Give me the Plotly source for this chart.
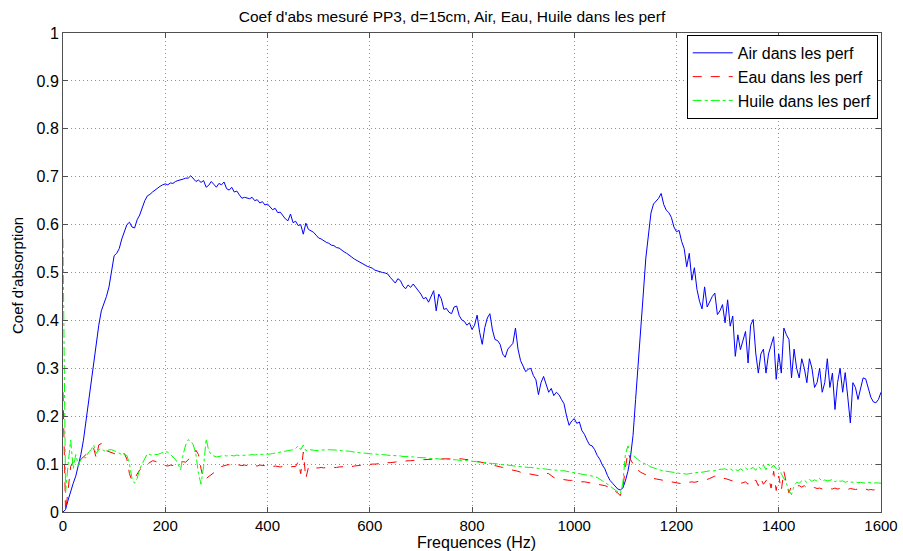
import plotly.graph_objects as go

# Frequency grid (Hz), 5 Hz steps from 0 to 1600
freq = list(range(0, 1605, 5))

air = [
    0.0, 0.005, 0.025, 0.045, 0.06, 0.075, 0.095, 0.12, 0.15, 0.19, 0.235, 0.28, 0.32, 0.35, 0.39, 0.42, 0.435, 0.45, 0.47, 0.50,
    0.535, 0.54, 0.55, 0.57, 0.585, 0.60, 0.605, 0.595, 0.593, 0.61, 0.62, 0.635, 0.65, 0.66, 0.663, 0.668, 0.672, 0.677, 0.68, 0.683,
    0.685, 0.683, 0.687, 0.686, 0.69, 0.692, 0.693, 0.695, 0.697, 0.697, 0.702, 0.695, 0.69, 0.693, 0.688, 0.692, 0.678, 0.682, 0.69, 0.684,
    0.678, 0.686, 0.683, 0.689, 0.675, 0.672, 0.678, 0.668, 0.67, 0.662, 0.655, 0.657, 0.656, 0.654, 0.657, 0.65, 0.652, 0.645, 0.648, 0.641,
    0.643, 0.636, 0.631, 0.634, 0.625, 0.626, 0.618, 0.612, 0.608, 0.622, 0.604, 0.607, 0.598, 0.60, 0.58, 0.603, 0.59, 0.587, 0.584, 0.578,
    0.572, 0.57, 0.566, 0.563, 0.561, 0.557, 0.556, 0.552, 0.551, 0.546, 0.543, 0.540, 0.535, 0.532, 0.528, 0.525, 0.521, 0.518, 0.516, 0.513,
    0.511, 0.509, 0.505, 0.503, 0.502, 0.50, 0.499, 0.497, 0.49, 0.485, 0.478, 0.487, 0.483, 0.472, 0.466, 0.474, 0.469, 0.476, 0.469, 0.462,
    0.455, 0.445, 0.448, 0.438, 0.45, 0.462, 0.42, 0.455, 0.445, 0.423, 0.425, 0.417, 0.414, 0.428, 0.43, 0.41, 0.401, 0.398, 0.39, 0.395,
    0.381, 0.39, 0.411, 0.375, 0.35, 0.385, 0.405, 0.414, 0.38, 0.36, 0.358, 0.35, 0.33, 0.323, 0.34, 0.345, 0.352, 0.384, 0.34, 0.316,
    0.305, 0.293, 0.298, 0.30, 0.285, 0.276, 0.245, 0.27, 0.283, 0.265, 0.25, 0.258, 0.243, 0.25, 0.245, 0.235, 0.226, 0.20, 0.181, 0.19,
    0.195, 0.185, 0.188, 0.17, 0.162, 0.15, 0.14, 0.138, 0.13, 0.118, 0.11, 0.098, 0.09, 0.076, 0.066, 0.06, 0.054, 0.048, 0.046, 0.05,
    0.065, 0.085, 0.115, 0.16, 0.235, 0.315, 0.39, 0.455, 0.53, 0.585, 0.624, 0.643, 0.65, 0.655, 0.665, 0.642, 0.63, 0.625, 0.615, 0.595,
    0.585, 0.588, 0.565, 0.55, 0.512, 0.54, 0.484, 0.51, 0.465, 0.44, 0.424, 0.47, 0.428, 0.44, 0.45, 0.457, 0.412, 0.42, 0.433, 0.395,
    0.443, 0.388, 0.409, 0.325, 0.37, 0.339, 0.36, 0.377, 0.311, 0.39, 0.402, 0.332, 0.29, 0.33, 0.34, 0.29, 0.33, 0.35, 0.366, 0.277,
    0.33, 0.29, 0.384, 0.37, 0.36, 0.28, 0.34, 0.30, 0.28, 0.32, 0.30, 0.27, 0.32, 0.30, 0.26, 0.27, 0.30, 0.25, 0.27, 0.32,
    0.26, 0.29, 0.214, 0.27, 0.30, 0.25, 0.291, 0.24, 0.186, 0.27, 0.26, 0.235, 0.26, 0.28, 0.278, 0.26, 0.24, 0.23, 0.228, 0.235,
    0.25,
]

eau = [
    0.25, 0.0, 0.046, 0.095, 0.105, 0.10, 0.105, 0.11, 0.115, 0.12, 0.126, 0.13, 0.133, 0.113, 0.14, 0.143, 0.13, 0.128, 0.126, 0.124,
    0.122, 0.12, 0.122, 0.12, 0.122, 0.11, 0.08, 0.065, 0.07, 0.08, 0.088, 0.093, 0.098, 0.10, 0.104, 0.107, 0.106, 0.104, 0.103, 0.10,
    0.097, 0.096, 0.098, 0.097, 0.10, 0.103, 0.104, 0.105, 0.104, 0.11, 0.115, 0.12, 0.129, 0.12, 0.09, 0.068, 0.07, 0.074, 0.078, 0.082,
    0.085, 0.09, 0.095, 0.097, 0.098, 0.099, 0.10, 0.10, 0.099, 0.098, 0.097, 0.098, 0.097, 0.096, 0.098, 0.097, 0.096, 0.098, 0.097, 0.097,
    0.096, 0.097, 0.095, 0.096, 0.095, 0.094, 0.095, 0.096, 0.095, 0.094, 0.095, 0.095, 0.105, 0.08, 0.125, 0.07, 0.093, 0.092, 0.094, 0.092,
    0.092, 0.093, 0.092, 0.093, 0.092, 0.092, 0.093, 0.093, 0.094, 0.094, 0.095, 0.095, 0.096, 0.095, 0.096, 0.097, 0.097, 0.098, 0.098, 0.099,
    0.099, 0.10, 0.10, 0.101, 0.101, 0.10, 0.102, 0.103, 0.103, 0.104, 0.104, 0.105, 0.105, 0.106, 0.106, 0.107, 0.107, 0.108, 0.108, 0.109,
    0.109, 0.109, 0.11, 0.11, 0.11, 0.111, 0.111, 0.111, 0.112, 0.112, 0.112, 0.112, 0.111, 0.112, 0.111, 0.111, 0.111, 0.11, 0.11, 0.109,
    0.108, 0.107, 0.106, 0.105, 0.104, 0.103, 0.101, 0.10, 0.098, 0.097, 0.095, 0.094, 0.093, 0.091, 0.09, 0.089, 0.087, 0.086, 0.085, 0.083,
    0.082, 0.081, 0.08, 0.079, 0.078, 0.077, 0.076, 0.078, 0.08, 0.081, 0.08, 0.076, 0.072, 0.07, 0.069, 0.068, 0.067, 0.067, 0.066, 0.066,
    0.065, 0.064, 0.064, 0.063, 0.063, 0.062, 0.061, 0.061, 0.06, 0.059, 0.058, 0.056, 0.055, 0.053, 0.05, 0.047, 0.044, 0.04, 0.034, 0.05,
    0.092, 0.125, 0.11, 0.10, 0.095, 0.087, 0.083, 0.08, 0.077, 0.075, 0.073, 0.07, 0.069, 0.068, 0.066, 0.065, 0.064, 0.063, 0.062, 0.061,
    0.06, 0.06, 0.059, 0.06, 0.061, 0.062, 0.063, 0.062, 0.063, 0.064, 0.065, 0.066, 0.068, 0.07, 0.072, 0.075, 0.073, 0.071, 0.07, 0.07,
    0.068, 0.066, 0.064, 0.063, 0.062, 0.06, 0.061, 0.063, 0.058, 0.064, 0.06, 0.067, 0.055, 0.07, 0.058, 0.065, 0.072, 0.05, 0.085, 0.045,
    0.075, 0.045, 0.085, 0.06, 0.04, 0.055, 0.053, 0.054, 0.055, 0.052, 0.055, 0.05, 0.052, 0.05, 0.051, 0.049, 0.05, 0.048, 0.05, 0.049,
    0.049, 0.048, 0.05, 0.048, 0.049, 0.047, 0.048, 0.047, 0.049, 0.048, 0.047, 0.048, 0.047, 0.046, 0.048, 0.046, 0.047, 0.046, 0.047, 0.046,
    0.046,
]

huile = [
    0.57, 0.04, 0.10, 0.15, 0.09, 0.12, 0.097, 0.11, 0.115, 0.113, 0.125, 0.13, 0.14, 0.122, 0.13, 0.133, 0.128, 0.126, 0.13, 0.13,
    0.128, 0.125, 0.122, 0.12, 0.12, 0.118, 0.10, 0.07, 0.06, 0.07, 0.09, 0.10, 0.11, 0.122, 0.12, 0.118, 0.12, 0.12, 0.122, 0.124,
    0.126, 0.125, 0.12, 0.115, 0.11, 0.10, 0.088, 0.12, 0.14, 0.151, 0.148, 0.14, 0.12, 0.08, 0.058, 0.095, 0.153, 0.128, 0.12, 0.117,
    0.115, 0.116, 0.117, 0.118, 0.117, 0.118, 0.118, 0.117, 0.119, 0.118, 0.118, 0.119, 0.118, 0.119, 0.12, 0.119, 0.12, 0.12, 0.121, 0.12,
    0.12, 0.121, 0.122, 0.123, 0.124, 0.124, 0.125, 0.126, 0.127, 0.128, 0.13, 0.133, 0.138, 0.13, 0.14, 0.128, 0.129, 0.13, 0.129, 0.128,
    0.128, 0.129, 0.13, 0.13, 0.13, 0.13, 0.13, 0.129, 0.129, 0.128, 0.128, 0.127, 0.127, 0.126, 0.125, 0.125, 0.124, 0.123, 0.123, 0.122,
    0.122, 0.121, 0.121, 0.12, 0.12, 0.12, 0.119, 0.119, 0.118, 0.118, 0.118, 0.117, 0.117, 0.116, 0.116, 0.115, 0.115, 0.115, 0.114, 0.114,
    0.113, 0.113, 0.113, 0.112, 0.112, 0.111, 0.111, 0.111, 0.11, 0.11, 0.11, 0.11, 0.109, 0.109, 0.109, 0.108, 0.108, 0.108, 0.107, 0.107,
    0.106, 0.105, 0.105, 0.104, 0.104, 0.103, 0.103, 0.102, 0.101, 0.101, 0.10, 0.099, 0.099, 0.098, 0.098, 0.097, 0.096, 0.096, 0.095, 0.095,
    0.094, 0.094, 0.093, 0.093, 0.092, 0.092, 0.091, 0.091, 0.09, 0.09, 0.089, 0.088, 0.088, 0.087, 0.087, 0.086, 0.086, 0.085, 0.084, 0.084,
    0.083, 0.082, 0.081, 0.08, 0.079, 0.078, 0.077, 0.076, 0.074, 0.072, 0.068, 0.065, 0.062, 0.058, 0.054, 0.05, 0.046, 0.042, 0.038, 0.06,
    0.12, 0.138, 0.125, 0.118, 0.113, 0.108, 0.105, 0.102, 0.10, 0.097, 0.094, 0.092, 0.09, 0.088, 0.087, 0.086, 0.085, 0.084, 0.084, 0.083,
    0.082, 0.081, 0.08, 0.08, 0.079, 0.08, 0.081, 0.082, 0.082, 0.083, 0.083, 0.084, 0.085, 0.086, 0.085, 0.087, 0.088, 0.089, 0.09, 0.09,
    0.088, 0.09, 0.087, 0.089, 0.086, 0.09, 0.087, 0.092, 0.088, 0.09, 0.093, 0.087, 0.095, 0.09, 0.098, 0.088, 0.10, 0.092, 0.098, 0.09,
    0.095, 0.08, 0.07, 0.06, 0.045, 0.036, 0.055, 0.062, 0.06, 0.065, 0.066, 0.062, 0.068, 0.064, 0.067, 0.065, 0.07, 0.064, 0.067, 0.065,
    0.066, 0.068, 0.063, 0.066, 0.064, 0.065, 0.062, 0.064, 0.063, 0.062, 0.063, 0.061, 0.062, 0.061, 0.06, 0.062, 0.061, 0.06, 0.061, 0.06,
    0.06,
]

x_ticks = [0, 200, 400, 600, 800, 1000, 1200, 1400, 1600]
y_ticks = [0, 0.1, 0.2, 0.3, 0.4, 0.5, 0.6, 0.7, 0.8, 0.9, 1]
y_tick_text = ["0", "0.1", "0.2", "0.3", "0.4", "0.5", "0.6", "0.7", "0.8", "0.9", "1"]

FONT = "Liberation Sans, Arial, sans-serif"

fig = go.Figure()
fig.add_trace(go.Scatter(x=freq, y=air, mode="lines", name="Air dans les perf",
                         line=dict(color="#0000ff", width=1)))
fig.add_trace(go.Scatter(x=freq, y=eau, mode="lines", name="Eau dans les perf",
                         line=dict(color="#ff0000", width=1, dash="dash")))
fig.add_trace(go.Scatter(x=freq, y=huile, mode="lines", name="Huile dans les perf",
                         line=dict(color="#00ff00", width=1, dash="dashdot")))

axis_common = dict(
    showline=True, linecolor="#505050", linewidth=1, mirror="ticks",
    ticks="inside", ticklen=5, tickcolor="#505050",
    showgrid=True, gridcolor="#909090", griddash="1px,3px", gridwidth=1,
    zeroline=False, automargin=False,
)

fig.update_layout(
    width=903, height=551,
    margin=dict(l=63, r=22, t=33, b=39),
    paper_bgcolor="white", plot_bgcolor="white",
    title=dict(text="Coef d'abs mesuré PP3, d=15cm, Air, Eau, Huile dans les perf",
               x=452 / 903, xanchor="center", y=1 - 17 / 551, yanchor="middle",
               xref="container", yref="container",
               font=dict(family=FONT, size=15.5, color="black")),
    xaxis=dict(range=[0, 1600], tickvals=x_ticks, ticklabelstandoff=0,
               tickfont=dict(family=FONT, size=15, color="black"), **axis_common),
    yaxis=dict(range=[0, 1], tickvals=y_ticks, ticktext=y_tick_text, ticklabelstandoff=0,
               tickfont=dict(family=FONT, size=16, color="black"), **axis_common),
    legend=dict(x=0.996, y=0.996, xanchor="right", yanchor="top",
                bgcolor="white", bordercolor="black", borderwidth=1,
                font=dict(family=FONT, size=16, color="black"),
                tracegroupgap=0, itemwidth=40),
    showlegend=True,
    annotations=[
        dict(text="Frequences (Hz)", xref="paper", yref="paper",
             x=(476 - 63) / 818, y=-(542 - 512) / 479, xanchor="center", yanchor="middle",
             showarrow=False, font=dict(family=FONT, size=16, color="black")),
        dict(text="Coef d'absorption", xref="paper", yref="paper",
             x=-(63 - 17) / 818, y=(512 - 276) / 479, xanchor="center", yanchor="middle",
             textangle=-90, showarrow=False,
             font=dict(family="Liberation Sans Narrow, " + FONT, size=15, color="black")),
    ],
)

fig.write_html("out.html", config={"displayModeBar": False},
               post_script="document.body.style.margin='0px';")
